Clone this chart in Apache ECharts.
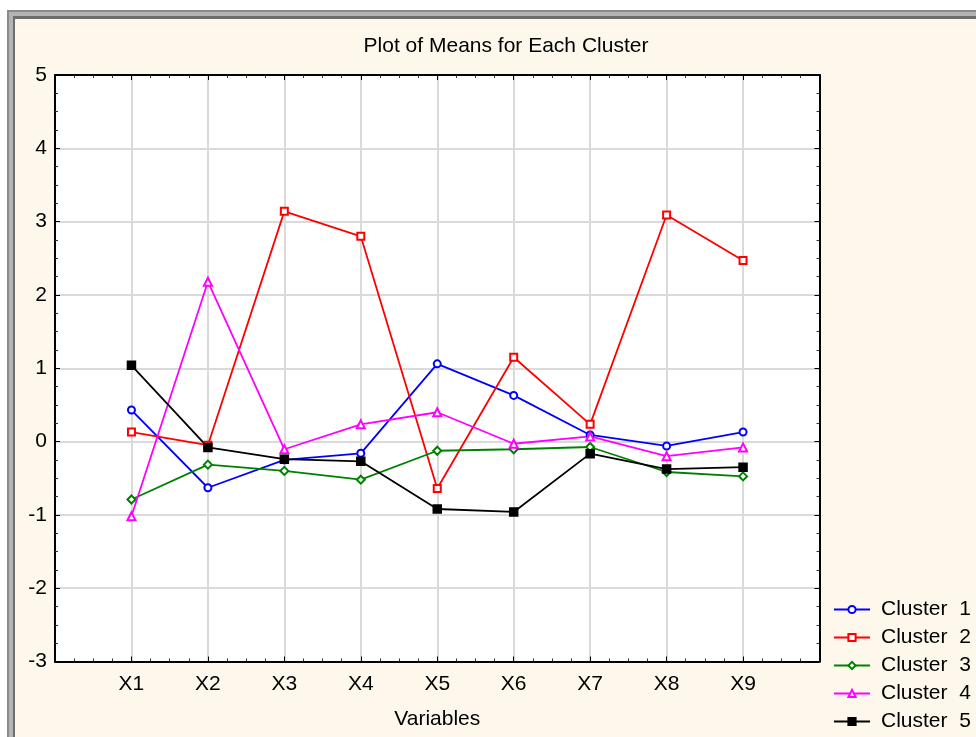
<!DOCTYPE html>
<html>
<head>
<meta charset="utf-8">
<script src="https://cdn.jsdelivr.net/npm/echarts@6/dist/echarts.min.js"></script>
<style>
html,body{margin:0;padding:0;background:#fff;}
#chart{width:976px;height:737px;}
</style>
</head>
<body>
<div id="chart"></div>
<script>
const categories = ['X1','X2','X3','X4','X5','X6','X7','X8','X9'];
const seriesNames = ['Cluster  1','Cluster  2','Cluster  3','Cluster  4','Cluster  5'];
const cluster1 = [0.43, -0.63, -0.25, -0.16, 1.06, 0.63, 0.09, -0.06, 0.13];
const cluster2 = [0.13, -0.05, 3.14, 2.80, -0.64, 1.15, 0.235, 3.09, 2.47];
const cluster3 = [-0.79, -0.315, -0.40, -0.52, -0.125, -0.105, -0.074, -0.415, -0.475];
const cluster4 = [-1.02, 2.18, -0.105, 0.235, 0.40, -0.03, 0.07, -0.20, -0.08];
const cluster5 = [1.04, -0.08, -0.24, -0.27, -0.92, -0.96, -0.165, -0.375, -0.35];
const yTicks = [-3,-2,-1,0,1,2,3,4,5];

const colors = ['#0000ff','#ff0000','#008000','#ff00ff','#000000'];
const symbols = ['emptyCircle','emptyRect','emptyDiamond','emptyTriangle','rect'];
const sizes = [7,7,8,8,8];
const allData = [cluster1, cluster2, cluster3, cluster4, cluster5];

const font = '"Liberation Sans", Arial, sans-serif';

const chart = echarts.init(document.getElementById('chart'), null, {renderer:'canvas'});

const series = allData.map((arr, i) => ({
  name: seriesNames[i],
  type: 'line',
  xAxisIndex: 0,
  yAxisIndex: 0,
  data: arr.map((v, j) => [j + 1, v]),
  symbol: symbols[i],
  symbolSize: sizes[i],
  showAllSymbol: true,
  color: colors[i],
  lineStyle: {color: colors[i], width: 1.8},
  itemStyle: {color: colors[i], borderColor: colors[i], borderWidth: 1.5},
  emphasis: {disabled: true},
  animation: false,
  z: 3
}));

function tickCommon() {
  return {
    axisLine: {show: true, onZero: false, lineStyle: {color: '#000', width: 2}},
    axisTick: {show: true, inside: true, length: 5, lineStyle: {color: '#000', width: 1}},
    minorTick: {show: true, splitNumber: 4, length: 3, lineStyle: {color: '#333', width: 1}}
  };
}

chart.setOption({
  backgroundColor: '#ffffff',
  animation: false,
  graphic: {
    elements: [
      {type: 'rect', z: -100, silent: true, shape: {x: 7, y: 10, width: 1000, height: 800}, style: {fill: '#8a8a8a'}},
      {type: 'rect', z: -99, silent: true, shape: {x: 9, y: 12, width: 1000, height: 800}, style: {fill: '#b4b4b4'}},
      {type: 'rect', z: -98, silent: true, shape: {x: 13, y: 16, width: 1000, height: 800}, style: {fill: '#6e6e6e'}},
      {type: 'rect', z: -97, silent: true, shape: {x: 15, y: 19, width: 1000, height: 800}, style: {fill: '#fef8ec'}}
    ]
  },
  title: {
    text: 'Plot of Means for Each Cluster',
    left: 501, top: 31, textAlign: 'center',
    textStyle: {fontFamily: font, fontSize: 21, fontWeight: 'normal', color: '#000'}
  },
  legend: {
    orient: 'vertical',
    left: 833, top: 599,
    padding: 0,
    itemWidth: 36, itemHeight: 9, itemGap: 7,
    data: seriesNames,
    textStyle: {fontFamily: font, fontSize: 21, color: '#000', lineHeight: 21, padding: [0,0,0,6]},
    selectedMode: false
  },
  grid: {
    left: 55, top: 75, right: 156.5, bottom: 75.5,
    show: true, backgroundColor: '#ffffff', borderWidth: 0
  },
  xAxis: [
    Object.assign({
      type: 'value', min: 0, max: 10, interval: 1, position: 'bottom',
      name: 'Variables', nameLocation: 'middle', nameGap: 47,
      nameTextStyle: {fontFamily: font, fontSize: 21, color: '#000'},
      axisLabel: {
        fontFamily: font, fontSize: 21, color: '#000', margin: 12,
        formatter: v => categories[v - 1] || ''
      },
      splitLine: {show: true, lineStyle: {color: '#dadada', width: 2}}
    }, tickCommon()),
    Object.assign({
      type: 'value', min: 0, max: 10, interval: 1, position: 'top',
      axisLabel: {show: false},
      splitLine: {show: false}
    }, tickCommon())
  ],
  yAxis: [
    Object.assign({
      type: 'value', min: yTicks[0], max: yTicks[yTicks.length - 1], interval: 1, position: 'left',
      axisLabel: {fontFamily: font, fontSize: 21, color: '#000', margin: 8},
      splitLine: {show: true, lineStyle: {color: '#dadada', width: 2}}
    }, tickCommon()),
    Object.assign({
      type: 'value', min: yTicks[0], max: yTicks[yTicks.length - 1], interval: 1, position: 'right',
      axisLabel: {show: false},
      splitLine: {show: false}
    }, tickCommon())
  ],
  series: series
});
</script>
</body>
</html>
